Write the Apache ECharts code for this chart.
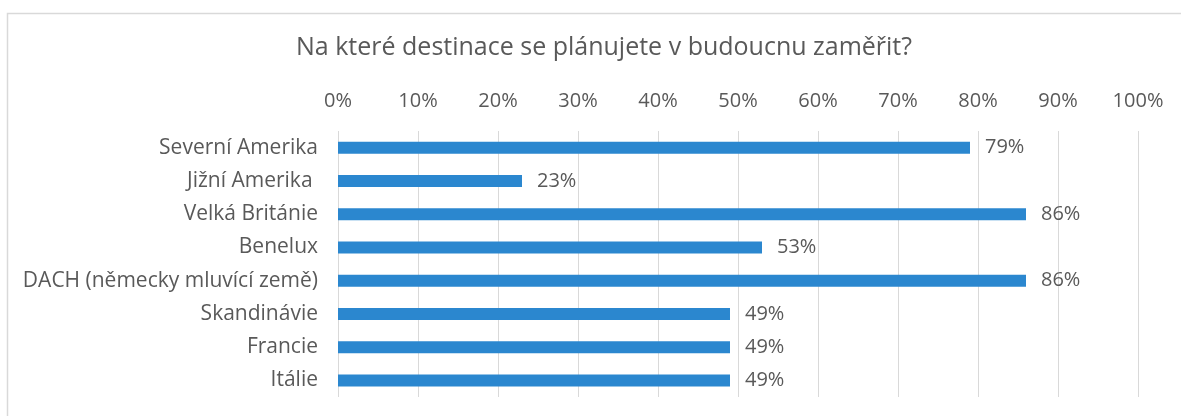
<!DOCTYPE html>
<html>
<head>
<meta charset="utf-8">
<script src="https://cdn.jsdelivr.net/npm/echarts@6/dist/echarts.min.js"></script>
<style>
  html, body { margin: 0; padding: 0; background: #fff; }
  #main { width: 1181px; height: 416px; }
</style>
</head>
<body>
<div id="main"></div>
<script>
// data
var categories = ['Severní Amerika', 'Jižní Amerika ', 'Velká Británie', 'Benelux',
  'DACH (německy mluvící země)', 'Skandinávie', 'Francie', 'Itálie'];
var values = [79, 23, 86, 53, 86, 49, 49, 49];
var titleText = 'Na které destinace se plánujete v budoucnu zaměřit?';

var font = '"Open Sans", Lato, sans-serif';
var grey = '#595959';

var chart = echarts.init(document.getElementById('main'));
chart.setOption({
  animation: false,
  backgroundColor: '#fff',
  graphic: [{
    type: 'rect',
    shape: { x: 7.5, y: 13.5, width: 1200, height: 450 },
    style: { fill: 'none', stroke: '#d9d9d9', lineWidth: 1.5 },
    silent: true
  }],
  title: {
    text: titleText,
    left: 291,
    top: 30,
    textStyle: { color: grey, fontFamily: font, fontSize: 25, fontWeight: 'normal' }
  },
  grid: { left: 338, right: 43, top: 131, height: 266, containLabel: false },
  xAxis: {
    type: 'value',
    position: 'top',
    min: 0,
    max: 100,
    interval: 10,
    axisLine: { show: false },
    axisTick: { show: false },
    axisLabel: {
      color: grey, fontFamily: font, fontSize: 20, margin: 20,
      formatter: function (v) { return v + '%'; }
    },
    splitLine: { lineStyle: { color: '#d9d9d9', width: 1 } }
  },
  yAxis: {
    type: 'category',
    data: categories,
    inverse: true,
    axisLine: { show: false },
    axisTick: { show: false },
    axisLabel: { color: grey, fontFamily: font, fontSize: 21, margin: 20 }
  },
  series: [{
    type: 'bar',
    data: values,
    barWidth: 12,
    itemStyle: { color: '#2B87CF' },
    label: {
      show: true,
      position: 'right',
      distance: 15,
      color: grey,
      fontFamily: font,
      fontSize: 20,
      formatter: function (p) { return p.value + '%'; }
    }
  }]
});
</script>
</body>
</html>
